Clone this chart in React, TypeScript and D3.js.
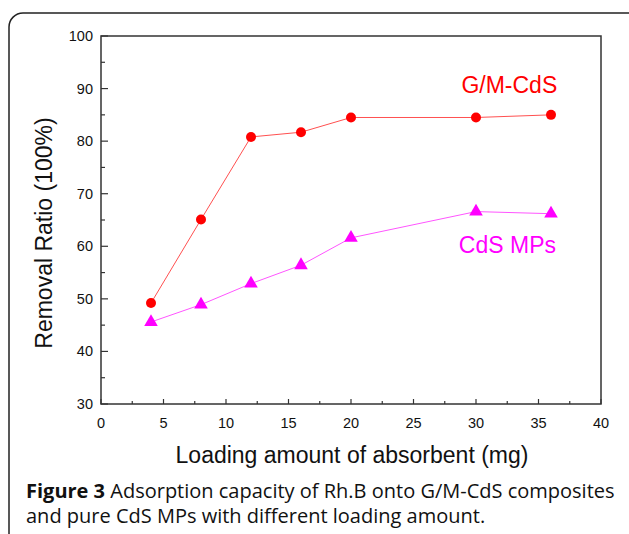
import * as d3 from "d3";

const loading = [4, 8, 12, 16, 20, 30, 36];
const gmCdS = [49.2, 65.1, 80.8, 81.7, 84.5, 84.5, 85.0];
const cdsMPs = [45.6, 48.9, 52.9, 56.4, 61.6, 66.6, 66.2];
const xTicks = [0, 5, 10, 15, 20, 25, 30, 35, 40];
const yTicks = [30, 40, 50, 60, 70, 80, 90, 100];

const W = 629;
const H = 534;
const margin = { left: 101, top: 36, right: 28, bottom: 130 };
const innerW = W - margin.left - margin.right;
const innerH = H - margin.top - margin.bottom;

export default function App() {
  const x = d3.scaleLinear().domain([0, 40]).range([0, innerW]);
  const y = d3.scaleLinear().domain([30, 100]).range([innerH, 0]);

  const line = d3
    .line<number>()
    .x((_, i) => x(loading[i]))
    .y((d) => y(d));

  const minorX = d3.range(0, 40.1, 2.5);
  const minorY = d3.range(30, 100.1, 5);
  const tri = d3.symbol(d3.symbolTriangle, 80)();
  const axisColor = "#333";

  return (
    <svg
      width={W}
      height={H}
      style={{ position: "absolute", left: 0, top: 0, background: "#fff" }}
      fontFamily="'Liberation Sans', Arial, sans-serif"
    >
      {/* outer frame, rounded top-left corner */}
      <rect x={9} y={13} width={W + 20} height={H + 20} rx={14} fill="none" stroke="#222" strokeWidth={1.5} />

      <g transform={`translate(${margin.left},${margin.top})`}>
        {/* box */}
        <rect x={0} y={0} width={innerW} height={innerH} fill="none" stroke={axisColor} strokeWidth={1.5} />

        {/* x ticks */}
        {minorX.map((t) => (
          <line
            key={`xt-${t}`}
            x1={x(t)}
            x2={x(t)}
            y1={innerH}
            y2={innerH - (t % 5 === 0 ? 5 : 3)}
            stroke={axisColor}
            strokeWidth={1.2}
          />
        ))}
        {xTicks.map((t) => (
          <text key={`xl-${t}`} x={x(t)} y={innerH + 24} textAnchor="middle" fontSize={14.5} fill="#111">
            {t}
          </text>
        ))}

        {/* y ticks */}
        {minorY.map((t) => (
          <line
            key={`yt-${t}`}
            x1={0}
            x2={t % 10 === 0 ? 7 : 4}
            y1={y(t)}
            y2={y(t)}
            stroke={axisColor}
            strokeWidth={1.2}
          />
        ))}
        {yTicks.map((t) => (
          <text key={`yl-${t}`} x={-8} y={y(t) + 5} textAnchor="end" fontSize={14.5} fill="#111">
            {t}
          </text>
        ))}

        {/* series */}
        <path d={line(gmCdS) ?? ""} fill="none" stroke="#ff5050" strokeWidth={1} />
        <path d={line(cdsMPs) ?? ""} fill="none" stroke="#ff55ff" strokeWidth={1} />
        {gmCdS.map((v, i) => (
          <circle key={`c-${i}`} cx={x(loading[i])} cy={y(v)} r={5} fill="#ff0000" />
        ))}
        {cdsMPs.map((v, i) => (
          <path
            key={`t-${i}`}
            d={tri ?? ""}
            transform={`translate(${x(loading[i])},${y(v)})`}
            fill="#ff00ff"
          />
        ))}

        {/* labels */}
        <text x={x(36.5)} y={y(89.2)} textAnchor="end" fontSize={23} fill="#ff0000">
          G/M-CdS
        </text>
        <text x={x(36.4)} y={y(58.7)} textAnchor="end" fontSize={23} fill="#ff00ff">
          CdS MPs
        </text>
      </g>

      <text
        transform={`translate(52,233) rotate(-90)`}
        textAnchor="middle"
        fontSize={23}
        fill="#111"
      >
        Removal Ratio (100%)
      </text>
      <text x={352} y={463} textAnchor="middle" fontSize={23} fill="#111">
        Loading amount of absorbent (mg)
      </text>

      {/* caption */}
      <g fontFamily="'Open Sans', 'Noto Sans', sans-serif" fontSize={20} fill="#111">
        <text x={26} y={498}>
          <tspan fontWeight="bold">Figure 3</tspan> Adsorption capacity of Rh.B onto G/M-CdS composites
        </text>
        <text x={26} y={523}>
          and pure CdS MPs with different loading amount.
        </text>
      </g>
    </svg>
  );
}
